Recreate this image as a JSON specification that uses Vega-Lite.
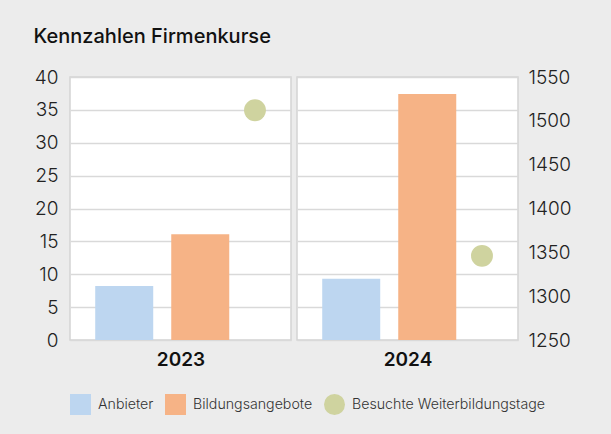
{
  "$schema": "https://vega.github.io/schema/vega-lite/v6.json",
  "background": "#ececec",
  "padding": {"left": 33, "top": 27, "right": 45, "bottom": 30},
  "title": {"text": "Kennzahlen Firmenkurse", "anchor": "start", "fontSize": 20, "fontWeight": 450, "font": "Inter", "color": "#111111", "offset": 20},
  "data": {"values": [
    {"year": "2023", "series": "Anbieter", "value": 8.2},
    {"year": "2023", "series": "Bildungsangebote", "value": 16.1},
    {"year": "2023", "series": "Besuchte Weiterbildungstage", "value": 1512},
    {"year": "2024", "series": "Anbieter", "value": 9.3},
    {"year": "2024", "series": "Bildungsangebote", "value": 37.4},
    {"year": "2024", "series": "Besuchte Weiterbildungstage", "value": 1346}
  ]},
  "spacing": 4,
  "hconcat": [
    {
      "width": 221,
      "height": 263,
      "transform": [{"filter": "datum.year == '2023'"}],
      "layer": [
        {
          "transform": [{"filter": "datum.series != 'Besuchte Weiterbildungstage'"}],
          "mark": {"type": "bar"},
          "encoding": {
            "x": {"field": "series", "type": "nominal", "scale": {"domain": ["Anbieter", "Bildungsangebote"], "paddingInner": 0.237, "paddingOuter": 0.572, "align": 0.29}, "axis": {"title": "2023", "labels": false, "ticks": false, "domain": false, "titleFontSize": 19, "titleFontWeight": 600, "titleFont": "Inter", "titleColor": "#111111", "titlePadding": 10}},
            "y": {"field": "value", "type": "quantitative", "scale": {"domain": [0, 40], "nice": false}, "axis": {"orient": "left", "values": [0, 5, 10, 15, 20, 25, 30, 35, 40], "title": null, "domain": false, "ticks": false, "labelPadding": 12, "labelFontSize": 19, "labelFont": "Inter", "labelFontWeight": 300, "labelColor": "#222222", "grid": true, "gridColor": "#d9d9d9", "gridWidth": 1.5}},
            "color": {"field": "series", "type": "nominal", "scale": {"domain": ["Anbieter", "Bildungsangebote", "Besuchte Weiterbildungstage"], "range": ["#bdd6f0", "#f6b386", "#cfd39f"]}, "legend": {"orient": "bottom", "direction": "horizontal", "title": null, "labelFontSize": 14.2, "labelFont": "Inter", "labelFontWeight": 300, "labelColor": "#333333", "labelLimit": 400, "symbolSize": 441, "symbolType": "square", "symbolOpacity": 1, "labelOffset": 7, "columnPadding": 11, "offset": 24, "encode": {"symbols": {"update": {"shape": {"signal": "datum.label == 'Besuchte Weiterbildungstage' ? 'circle' : 'square'"}, "strokeWidth": {"value": 0}}}}}}
          }
        },
        {
          "transform": [{"filter": "datum.series == 'Besuchte Weiterbildungstage'"}],
          "mark": {"type": "circle", "size": 480, "opacity": 1},
          "encoding": {
            "x": {"field": "series", "type": "nominal", "scale": {"type": "point", "domain": ["Besuchte Weiterbildungstage"], "align": 0.837}, "axis": null},
            "y": {"field": "value", "type": "quantitative", "scale": {"domain": [1250, 1550], "nice": false}, "axis": null},
            "color": {"field": "series", "type": "nominal"}
          }
        }
      ],
      "resolve": {"scale": {"x": "independent", "y": "independent"}}
    },
    {
      "width": 221,
      "height": 263,
      "transform": [{"filter": "datum.year == '2024'"}],
      "layer": [
        {
          "transform": [{"filter": "datum.series != 'Besuchte Weiterbildungstage'"}],
          "mark": {"type": "bar"},
          "encoding": {
            "x": {"field": "series", "type": "nominal", "scale": {"domain": ["Anbieter", "Bildungsangebote"], "paddingInner": 0.237, "paddingOuter": 0.572, "align": 0.29}, "axis": {"title": "2024", "labels": false, "ticks": false, "domain": false, "titleFontSize": 19, "titleFontWeight": 600, "titleFont": "Inter", "titleColor": "#111111", "titlePadding": 10}},
            "y": {"field": "value", "type": "quantitative", "scale": {"domain": [0, 40], "nice": false}, "axis": {"orient": "left", "values": [0, 5, 10, 15, 20, 25, 30, 35, 40], "title": null, "domain": false, "ticks": false, "labels": false, "grid": true, "gridColor": "#d9d9d9", "gridWidth": 1.5}},
            "color": {"field": "series", "type": "nominal"}
          }
        },
        {
          "transform": [{"filter": "datum.series == 'Besuchte Weiterbildungstage'"}],
          "mark": {"type": "circle", "size": 480, "opacity": 1},
          "encoding": {
            "x": {"field": "series", "type": "nominal", "scale": {"type": "point", "domain": ["Besuchte Weiterbildungstage"], "align": 0.837}, "axis": null},
            "y": {"field": "value", "type": "quantitative", "scale": {"domain": [1250, 1550], "nice": false}, "axis": {"orient": "right", "values": [1250, 1300, 1350, 1400, 1450, 1500, 1550], "format": "d", "title": null, "domain": false, "ticks": false, "labelPadding": 10, "labelFontSize": 19, "labelFont": "Inter", "labelFontWeight": 300, "labelColor": "#222222", "grid": false}},
            "color": {"field": "series", "type": "nominal"}
          }
        }
      ],
      "resolve": {"scale": {"x": "independent", "y": "independent"}}
    }
  ],
  "resolve": {"scale": {"color": "shared"}},
  "config": {"view": {"stroke": "#d4d4d4", "strokeWidth": 1.5, "fill": "#ffffff"}}
}
